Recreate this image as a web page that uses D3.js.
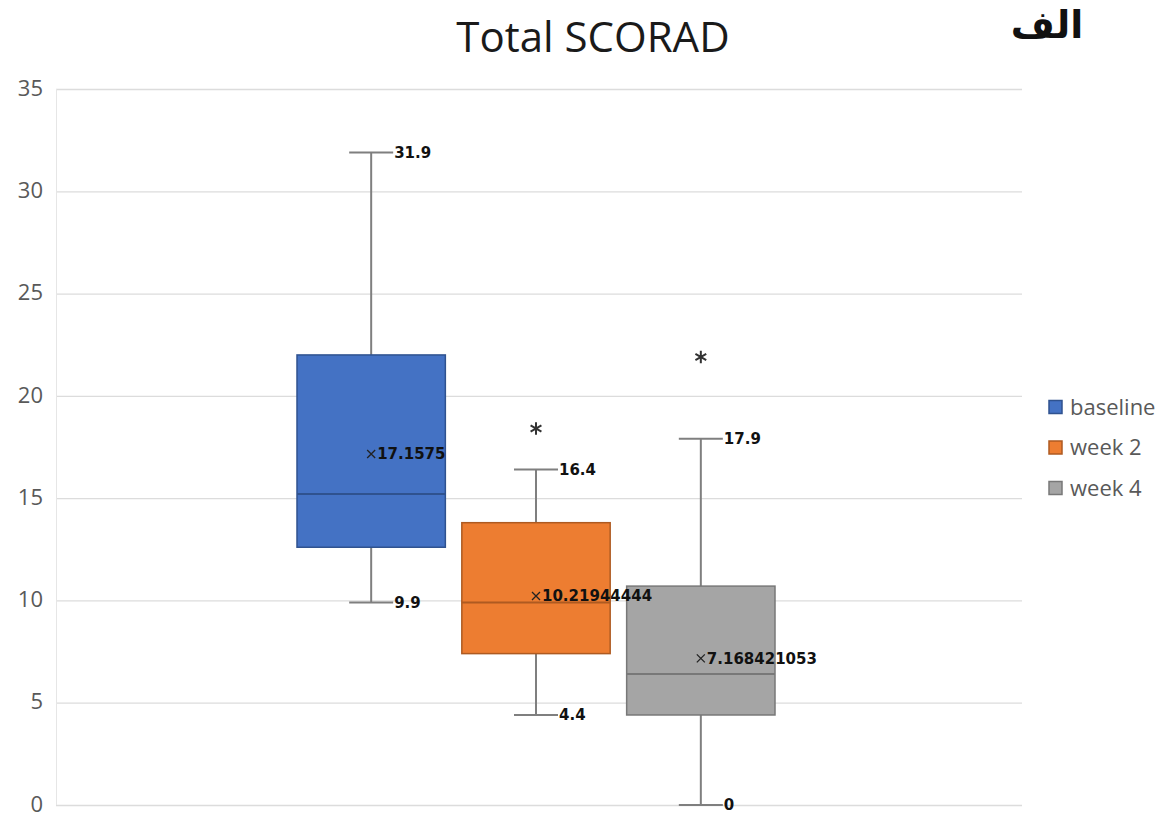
<!DOCTYPE html>
<html>
<head>
<meta charset="utf-8">
<script src="https://cdn.jsdelivr.net/npm/d3@7"></script>
<style>
  body { margin: 0; background: #fff; }
  svg { display: block; }
</style>
</head>
<body>
<div id="chart"></div>
<script>
// values
var series = ["baseline", "week 2", "week 4"];
var whiskerLow = [9.9, 4.4, 0];
var q1 = [12.6, 7.4, 4.4];
var median = [15.2, 9.9, 6.4];
var q3 = [22.0, 13.8, 10.7];
var whiskerHigh = [31.9, 16.4, 17.9];
var means = [17.1575, 10.21944444, 7.168421053];
var meanLabels = ["17.1575", "10.21944444", "7.168421053"];
var outliers = [[], [18.4], [21.9]];
var yTicks = [0, 5, 10, 15, 20, 25, 30, 35];

var fills = ["#4472C4", "#ED7D31", "#A5A5A5"];
var strokes = ["#2F528F", "#AE5A21", "#787878"];

var width = 1171,
    height = 816;

var svg = d3.select("#chart").append("svg")
    .attr("width", width)
    .attr("height", height);

var y = d3.scaleLinear()
    .domain([0, 35])
    .range([805, 89]);

var x = d3.scaleBand()
    .domain(series)
    .range([297, 775])
    .paddingInner(0.1);

var plotLeft = 56,
    plotRight = 1022;

// gridlines
svg.append("g")
    .selectAll("line")
    .data(yTicks)
    .enter().append("line")
    .attr("x1", plotLeft)
    .attr("x2", plotRight)
    .attr("y1", function (d) { return y(d) + 0.5; })
    .attr("y2", function (d) { return y(d) + 0.5; })
    .attr("stroke", "#dcdcdc")
    .attr("stroke-width", 1.3);

svg.append("line")
    .attr("x1", plotLeft + 0.5)
    .attr("x2", plotLeft + 0.5)
    .attr("y1", y(35))
    .attr("y2", y(0))
    .attr("stroke", "#e6e6e6");

// y axis labels
var yAxis = svg.append("g")
    .attr("transform", "translate(" + plotLeft + ",0)")
    .call(d3.axisLeft(y).tickValues(yTicks).tickSize(0).tickPadding(13));
yAxis.select(".domain").remove();
yAxis.selectAll("text")
    .attr("font-family", "Open Sans")
    .attr("font-size", 22)
    .attr("dy", "0.28em")
    .attr("fill", "#595959");

var rows = series.map(function (s, i) {
    return {
        key: s, i: i, lo: whiskerLow[i], q1: q1[i], med: median[i], q3: q3[i],
        hi: whiskerHigh[i], mean: means[i], meanLabel: meanLabels[i], out: outliers[i]
    };
});

var cx = function (d) { return x(d.key) + x.bandwidth() / 2; };
var capHalf = 22;

var box = svg.append("g")
    .selectAll("g")
    .data(rows)
    .enter().append("g");

// whiskers
box.append("line")
    .attr("x1", cx).attr("x2", cx)
    .attr("y1", function (d) { return y(d.hi); })
    .attr("y2", function (d) { return y(d.q3); })
    .attr("stroke", "#7f7f7f").attr("stroke-width", 2);
box.append("line")
    .attr("x1", cx).attr("x2", cx)
    .attr("y1", function (d) { return y(d.q1); })
    .attr("y2", function (d) { return y(d.lo); })
    .attr("stroke", "#7f7f7f").attr("stroke-width", 2);
box.selectAll(".cap")
    .data(function (d) { return [{ d: d, v: d.hi }, { d: d, v: d.lo }]; })
    .enter().append("line")
    .attr("class", "cap")
    .attr("x1", function (c) { return cx(c.d) - capHalf; })
    .attr("x2", function (c) { return cx(c.d) + capHalf; })
    .attr("y1", function (c) { return y(c.v); })
    .attr("y2", function (c) { return y(c.v); })
    .attr("stroke", "#7f7f7f").attr("stroke-width", 2);

// boxes
box.append("rect")
    .attr("x", function (d) { return x(d.key); })
    .attr("width", x.bandwidth())
    .attr("y", function (d) { return y(d.q3); })
    .attr("height", function (d) { return y(d.q1) - y(d.q3); })
    .attr("fill", function (d) { return fills[d.i]; })
    .attr("stroke", function (d) { return strokes[d.i]; })
    .attr("stroke-width", 1.5);

box.append("line")
    .attr("x1", function (d) { return x(d.key); })
    .attr("x2", function (d) { return x(d.key) + x.bandwidth(); })
    .attr("y1", function (d) { return y(d.med); })
    .attr("y2", function (d) { return y(d.med); })
    .attr("stroke", function (d) { return strokes[d.i]; })
    .attr("stroke-width", 2);

// outliers
box.selectAll(".out")
    .data(function (d) { return d.out.map(function (v) { return { d: d, v: v }; }); })
    .enter().append("path")
    .attr("class", "out")
    .attr("d", d3.symbol().type(d3.symbolAsterisk).size(110))
    .attr("transform", function (o) { return "translate(" + cx(o.d) + "," + y(o.v) + ")"; })
    .attr("stroke", "#333")
    .attr("stroke-width", 2)
    .attr("fill", "none");

// labels on top
var labels = svg.append("g")
    .attr("font-family", "DejaVu Sans")
    .attr("font-weight", "bold")
    .attr("font-size", 15)
    .attr("fill", "#111");

labels.selectAll(".wl")
    .data(rows.reduce(function (a, d) { return a.concat([{ d: d, v: d.hi }, { d: d, v: d.lo }]); }, []))
    .enter().append("text")
    .attr("x", function (c) { return cx(c.d) + capHalf + 1; })
    .attr("y", function (c) { return y(c.v); })
    .attr("dy", "0.35em")
    .text(function (c) { return c.v; });

var meanG = labels.selectAll(".mean")
    .data(rows)
    .enter().append("g")
    .attr("transform", function (d) { return "translate(" + cx(d) + "," + y(d.mean) + ")"; });

meanG.append("path")
    .attr("d", "M-4,-4L4,4M-4,4L4,-4")
    .attr("stroke", "#222")
    .attr("stroke-width", 1.3);

meanG.append("text")
    .attr("x", 6)
    .attr("dy", "0.35em")
    .text(function (d) { return d.meanLabel; });

// title
svg.append("text")
    .attr("x", 593)
    .attr("y", 52)
    .attr("text-anchor", "middle")
    .attr("font-family", "Open Sans")
    .attr("font-size", 42)
    .attr("fill", "#1a1a1a")
    .text("Total SCORAD");

svg.append("text")
    .attr("x", 1047)
    .attr("y", 38)
    .attr("text-anchor", "middle")
    .attr("font-family", "DejaVu Sans")
    .attr("font-weight", "bold")
    .attr("font-size", 38)
    .attr("fill", "#111")
    .text("الف");

// legend
var legend = svg.append("g")
    .selectAll("g")
    .data(series)
    .enter().append("g")
    .attr("transform", function (d, i) { return "translate(1049," + (407 + i * 40.5) + ")"; });

legend.append("rect")
    .attr("x", 0)
    .attr("y", -6.5)
    .attr("width", 13)
    .attr("height", 13)
    .attr("fill", function (d, i) { return fills[i]; })
    .attr("stroke", function (d, i) { return strokes[i]; })
    .attr("stroke-width", 1.5);

legend.append("text")
    .attr("x", 21)
    .attr("dy", "0.35em")
    .attr("font-family", "Open Sans")
    .attr("font-size", 22)
    .attr("fill", "#595959")
    .text(function (d) { return d; });
</script>
</body>
</html>
